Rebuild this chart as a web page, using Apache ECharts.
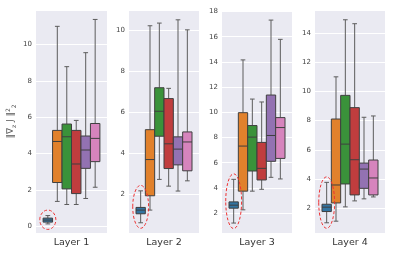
<!DOCTYPE html>
<html><head><meta charset="utf-8">
<script src="https://cdn.jsdelivr.net/npm/echarts@6/dist/echarts.min.js"></script>
<style>html,body{margin:0;padding:0;background:#fff}#c{width:393px;height:254px}</style>
</head><body><div id="c"></div>
<script>
const layers = ['Layer 1', 'Layer 2', 'Layer 3', 'Layer 4'];
const hueColors = ['#3274A1', '#E1812C', '#3A923A', '#C03D3E', '#9372B2', '#D684BD'];
// five-number summaries [min, q1, median, q3, max], one row per hue
const layer1 = [
  [0.12, 0.22, 0.33, 0.44, 0.58],
  [1.36, 2.40, 4.66, 5.27, 11.00],
  [1.19, 2.05, 4.92, 5.62, 8.78],
  [1.19, 1.79, 3.42, 5.27, 5.82],
  [1.52, 3.18, 4.19, 4.96, 9.55],
  [2.14, 3.55, 4.83, 5.65, 11.38]
];
const layer2 = [
  [0.60, 1.04, 1.22, 1.35, 2.16],
  [1.22, 1.92, 3.69, 5.15, 10.23],
  [2.72, 4.83, 6.05, 7.20, 10.36],
  [2.39, 3.25, 4.46, 6.67, 7.17],
  [2.15, 3.43, 4.20, 4.80, 10.52],
  [2.65, 3.14, 4.55, 5.04, 10.03]
];
const layer3 = [
  [1.21, 2.39, 2.63, 2.89, 4.68],
  [2.26, 3.74, 7.32, 9.97, 14.16],
  [3.74, 5.34, 8.03, 8.95, 11.05],
  [3.89, 4.63, 5.55, 7.61, 10.82],
  [4.84, 6.11, 8.16, 11.37, 17.32],
  [4.71, 6.34, 8.79, 9.58, 15.79]
];
const layer4 = [
  [1.00, 1.77, 2.07, 2.27, 3.77],
  [1.11, 2.36, 3.59, 8.11, 11.00],
  [2.09, 3.66, 6.39, 9.73, 14.91],
  [2.50, 2.91, 5.32, 8.89, 14.64],
  [2.64, 3.36, 4.68, 5.09, 8.23],
  [2.77, 2.91, 4.07, 5.30, 8.32]
];
const allStats = [layer1, layer2, layer3, layer4];
const yRanges = [[-0.38, 11.9], [0.1, 11.0], [0.42, 18.12], [0.3, 15.58]];
const ySplit = [6, 5, 9, 8];
const gridLefts = [36, 129, 222, 315];
const gridWidths = [71, 70, 70, 70];

const FONT = 'DejaVu Sans';
const edge = '#3f3f3f';
const whisk = '#5c5c5c';

function renderBox(params, api) {
  const h = api.value(1);
  const band = api.size([1, 0])[0];
  const w = band * 0.8 / 6;
  const cx = api.coord([0, 0])[0] + (h - 2.5) * w;
  const y = k => api.coord([0, api.value(k)])[1];
  const yMin = y(2), yQ1 = y(3), yMed = y(4), yQ3 = y(5), yMax = y(6);
  const cap = w / 4;
  const ls = { stroke: whisk, lineWidth: 1 };
  const children = [
    { type: 'line', shape: { x1: cx, y1: yQ1, x2: cx, y2: yMin }, style: ls },
    { type: 'line', shape: { x1: cx, y1: yQ3, x2: cx, y2: yMax }, style: ls },
    { type: 'line', shape: { x1: cx - cap, y1: yMin, x2: cx + cap, y2: yMin }, style: ls },
    { type: 'line', shape: { x1: cx - cap, y1: yMax, x2: cx + cap, y2: yMax }, style: ls },
    { type: 'rect', shape: { x: cx - w / 2, y: yQ3, width: w, height: yQ1 - yQ3 },
      style: { fill: hueColors[h], stroke: edge, lineWidth: 1 } },
    { type: 'line', shape: { x1: cx - w / 2, y1: yMed, x2: cx + w / 2, y2: yMed },
      style: { stroke: edge, lineWidth: 1 } }
  ];
  if (h === 0) {
    children.push({
      type: 'ellipse',
      shape: { cx: cx, cy: (yMin + yMax) / 2, rx: w * 0.85, ry: (yMin - yMax) / 2 + 5.5 },
      style: { fill: 'none', stroke: '#ee3333', lineWidth: 1, lineDash: [3, 2] },
      z2: 10
    });
  }
  return { type: 'group', children: children };
}

const grid = [], xAxis = [], yAxis = [], series = [];
for (let i = 0; i < 4; i++) {
  grid.push({ left: gridLefts[i], width: gridWidths[i], top: 10, bottom: 21,
    show: true, backgroundColor: '#EAEAF2', borderWidth: 0 });
  xAxis.push({ gridIndex: i, type: 'category', data: [layers[i]],
    axisLine: { show: false }, axisTick: { show: false }, splitLine: { show: false },
    axisLabel: { fontSize: 9.5, color: '#333', margin: 5, fontFamily: FONT } });
  const ya = { gridIndex: i, type: 'value', min: yRanges[i][0], max: yRanges[i][1],
    splitNumber: ySplit[i],
    axisLine: { show: false }, axisTick: { show: false },
    splitLine: { show: true, lineStyle: { color: '#ffffff', width: 1 } },
    axisLabel: { fontSize: 7, color: '#444', margin: 4, fontFamily: FONT,
      showMinLabel: false, showMaxLabel: false,
      formatter: v => (Math.abs(v - Math.round(v)) < 1e-6 ? String(Math.round(v)) : '') } };
  if (i === 0) {
    ya.name = '{n|‖∇}{s|z}{n| J ‖}{u|2}{s|2}';
    ya.nameLocation = 'middle';
    ya.nameRotate = 90;
    ya.nameGap = 19;
    ya.nameTextStyle = {
      color: '#555', fontFamily: FONT,
      rich: {
        n: { fontSize: 9, fontFamily: FONT, color: '#555', lineHeight: 12 },
        s: { fontSize: 6, fontFamily: FONT, color: '#555', verticalAlign: 'bottom', lineHeight: 12 },
        u: { fontSize: 6, fontFamily: FONT, color: '#555', verticalAlign: 'top', lineHeight: 12 }
      }
    };
  }
  yAxis.push(ya);
  series.push({
    type: 'custom', coordinateSystem: 'cartesian2d', xAxisIndex: i, yAxisIndex: i,
    renderItem: renderBox, clip: false,
    encode: { x: 0, y: [2, 3, 4, 5, 6] },
    data: allStats[i].map((s, h) => [0, h].concat(s))
  });
}

const chart = echarts.init(document.getElementById('c'), null, { renderer: 'canvas' });
chart.setOption({ animation: false, backgroundColor: '#fff', textStyle: { fontFamily: FONT },
  grid, xAxis, yAxis, series });
</script></body></html>
